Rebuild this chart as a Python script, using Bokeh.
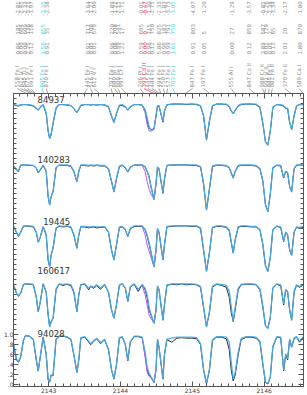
import math
from bokeh.plotting import figure
from bokeh.layouts import column
from bokeh.models import Range1d, LinearAxis, FixedTicker, ColumnDataSource, CustomJSTickFormatter
from bokeh.transform import dodge
from bokeh.core.properties import value
from bokeh.embed import file_html
from bokeh.resources import INLINE

# ---------------- data ----------------
wl = [2142.511, 2142.552, 2142.580,
      2142.610, 2142.649, 2142.676, 2142.731, 2142.787, 2142.828, 2142.855, 2142.883, 2142.924, 2142.966,
      2142.993, 2143.014, 2143.034, 2143.062, 2143.103, 2143.145, 2143.200, 2143.255, 2143.310, 2143.351,
      2143.393, 2143.420, 2143.448, 2143.503, 2143.558, 2143.585, 2143.627, 2143.668, 2143.723, 2143.778,
      2143.833, 2143.875, 2143.909, 2143.944, 2143.985, 2144.026, 2144.067, 2144.102, 2144.136, 2144.191,
      2144.247, 2144.302, 2144.343, 2144.371, 2144.398, 2144.425, 2144.467, 2144.494, 2144.515, 2144.536,
      2144.591, 2144.612, 2144.646, 2144.715, 2144.784, 2144.853, 2144.921, 2144.990, 2145.059, 2145.114,
      2145.156, 2145.197, 2145.238, 2145.280, 2145.335, 2145.404, 2145.473, 2145.514, 2145.541, 2145.569,
      2145.596, 2145.638, 2145.679, 2145.748, 2145.817, 2145.886, 2145.941, 2145.982, 2146.017, 2146.051,
      2146.085, 2146.120, 2146.175, 2146.230, 2146.271, 2146.299, 2146.326, 2146.354, 2146.382, 2146.416,
      2146.450, 2146.492, 2146.547]

stars = ["84937", "140283", "19445", "160617", "94028"]
offsets = [4.59, 3.39, 2.18, 1.04, 0.0]
name_x = [2142.846, 2142.846, 2142.924, 2142.846, 2142.846]
name_y = [5.67, 4.47, 3.25, 2.27, 1.02]

obs_84937 = [0.98, 0.96, 0.95,
             0.97, 0.98, 0.98, 0.97, 0.95, 0.90, 0.87, 0.92, 0.97, 0.80,
             0.45, 0.31, 0.38, 0.60, 0.90, 0.98, 0.98, 0.97, 0.96, 0.90,
             0.82, 0.88, 0.96, 0.98, 0.98, 0.97, 0.98, 0.97, 0.98, 0.97,
             0.93, 0.75, 0.63, 0.80, 0.96, 0.96, 0.93, 0.87, 0.93, 0.98,
             0.98, 0.97, 0.85, 0.65, 0.52, 0.48, 0.50, 0.75, 0.95, 0.95,
             0.63, 0.85, 0.97, 0.99, 0.99, 0.99, 0.98, 0.99, 0.98, 0.95,
             0.75, 0.28, 0.65, 0.95, 0.99, 0.99, 0.98, 0.93, 0.85, 0.80,
             0.86, 0.95, 0.98, 0.99, 0.99, 0.98, 0.92, 0.60, 0.25, 0.18,
             0.45, 0.92, 0.98, 0.97, 0.95, 0.90, 0.90, 0.62, 0.49, 0.75,
             0.95, 0.98, 0.98]
mod_84937 = [0.98, 0.97, 0.96,
             0.98, 0.98, 0.98, 0.98, 0.96, 0.91, 0.87, 0.93, 0.98, 0.82,
             0.46, 0.30, 0.40, 0.62, 0.92, 0.98, 0.98, 0.98, 0.96, 0.90,
             0.82, 0.89, 0.97, 0.98, 0.98, 0.98, 0.98, 0.98, 0.98, 0.98,
             0.94, 0.76, 0.62, 0.80, 0.97, 0.98, 0.94, 0.87, 0.94, 0.98,
             0.98, 0.97, 0.88, 0.72, 0.55, 0.47, 0.49, 0.76, 0.96, 0.96,
             0.64, 0.86, 0.98, 0.99, 0.99, 0.99, 0.99, 0.99, 0.99, 0.96,
             0.76, 0.27, 0.66, 0.96, 0.99, 0.99, 0.99, 0.94, 0.86, 0.80,
             0.87, 0.96, 0.99, 0.99, 0.99, 0.99, 0.93, 0.60, 0.24, 0.17,
             0.46, 0.93, 0.98, 0.98, 0.96, 0.91, 0.91, 0.63, 0.48, 0.76,
             0.96, 0.98, 0.98]

obs_140283 = [0.96, 0.88, 0.85,
              0.97, 0.98, 0.98, 0.97, 0.97, 0.92, 0.82, 0.88, 0.97, 0.85,
              0.35, 0.19, 0.35, 0.45, 0.92, 0.98, 0.97, 0.97, 0.95, 0.85,
              0.65, 0.85, 0.97, 0.97, 0.96, 0.97, 0.96, 0.97, 0.96, 0.96,
              0.90, 0.65, 0.45, 0.70, 0.95, 0.97, 0.92, 0.84, 0.93, 0.98,
              0.98, 0.98, 0.94, 0.85, 0.75, 0.55, 0.30, 0.60, 0.93, 0.90,
              0.42, 0.70, 0.97, 0.98, 0.98, 0.98, 0.98, 0.97, 0.97, 0.94,
              0.60, 0.09, 0.50, 0.95, 0.97, 0.97, 0.96, 0.92, 0.82, 0.72,
              0.85, 0.96, 0.97, 0.97, 0.97, 0.96, 0.90, 0.65, 0.20, 0.06,
              0.40, 0.92, 0.97, 0.96, 0.72, 0.85, 0.82, 0.55, 0.45, 0.90,
              0.97, 0.98, 0.97]
mod_140283 = [0.97, 0.89, 0.86,
              0.98, 0.98, 0.98, 0.98, 0.97, 0.92, 0.83, 0.89, 0.98, 0.86,
              0.36, 0.18, 0.34, 0.46, 0.93, 0.98, 0.98, 0.98, 0.96, 0.86,
              0.64, 0.86, 0.98, 0.98, 0.97, 0.98, 0.97, 0.98, 0.97, 0.97,
              0.91, 0.66, 0.44, 0.71, 0.96, 0.98, 0.93, 0.84, 0.94, 0.98,
              0.98, 0.98, 0.95, 0.86, 0.74, 0.54, 0.29, 0.61, 0.94, 0.91,
              0.41, 0.71, 0.97, 0.98, 0.98, 0.98, 0.98, 0.98, 0.98, 0.95,
              0.61, 0.08, 0.51, 0.96, 0.98, 0.98, 0.97, 0.93, 0.83, 0.72,
              0.86, 0.97, 0.98, 0.98, 0.98, 0.97, 0.91, 0.66, 0.19, 0.05,
              0.41, 0.93, 0.98, 0.97, 0.73, 0.86, 0.83, 0.56, 0.44, 0.91,
              0.98, 0.98, 0.98]

obs_19445 = [0.97, 0.85, 0.77,
             0.85, 0.97, 0.98, 0.97, 0.96, 0.85, 0.66, 0.75, 0.96, 0.80,
             0.30, 0.17, 0.40, 0.54, 0.93, 0.97, 0.96, 0.97, 0.95, 0.80,
             0.54, 0.80, 0.96, 0.96, 0.94, 0.95, 0.96, 0.94, 0.95, 0.96,
             0.85, 0.50, 0.31, 0.60, 0.95, 0.96, 0.90, 0.77, 0.92, 0.97,
             0.97, 0.97, 0.90, 0.78, 0.62, 0.45, 0.17, 0.50, 0.92, 0.85,
             0.31, 0.60, 0.96, 0.97, 0.98, 0.98, 0.98, 0.97, 0.97, 0.93,
             0.50, 0.08, 0.45, 0.94, 0.97, 0.97, 0.95, 0.88, 0.65, 0.44,
             0.70, 0.95, 0.97, 0.97, 0.96, 0.96, 0.90, 0.60, 0.20, 0.08,
             0.35, 0.90, 0.97, 0.95, 0.67, 0.85, 0.80, 0.50, 0.40, 0.85,
             0.95, 0.93, 0.96]
mod_19445 = [0.98, 0.86, 0.78,
             0.86, 0.98, 0.98, 0.98, 0.97, 0.86, 0.65, 0.76, 0.97, 0.81,
             0.31, 0.16, 0.39, 0.55, 0.94, 0.98, 0.97, 0.98, 0.96, 0.81,
             0.53, 0.81, 0.97, 0.97, 0.96, 0.96, 0.97, 0.96, 0.96, 0.97,
             0.86, 0.51, 0.30, 0.61, 0.96, 0.97, 0.91, 0.77, 0.93, 0.98,
             0.98, 0.98, 0.91, 0.80, 0.65, 0.46, 0.16, 0.51, 0.93, 0.86,
             0.30, 0.61, 0.97, 0.98, 0.98, 0.98, 0.98, 0.98, 0.98, 0.94,
             0.51, 0.07, 0.46, 0.95, 0.98, 0.98, 0.96, 0.90, 0.67, 0.44,
             0.71, 0.96, 0.98, 0.98, 0.97, 0.97, 0.91, 0.61, 0.19, 0.07,
             0.36, 0.91, 0.98, 0.96, 0.68, 0.86, 0.81, 0.51, 0.39, 0.86,
             0.96, 0.95, 0.97]

obs_160617 = [0.95, 0.78, 0.72,
              0.78, 0.95, 0.97, 0.96, 0.95, 0.70, 0.42, 0.60, 0.97, 0.80,
              0.35, 0.12, 0.22, 0.28, 0.85, 0.96, 0.94, 0.96, 0.93, 0.80,
              0.42, 0.75, 0.95, 0.96, 0.85, 0.92, 0.88, 0.93, 0.86, 0.95,
              0.80, 0.45, 0.29, 0.55, 0.94, 0.97, 0.88, 0.62, 0.90, 0.96,
              0.82, 0.95, 0.85, 0.70, 0.45, 0.35, 0.19, 0.45, 0.92, 0.85,
              0.25, 0.55, 0.94, 0.96, 0.95, 0.97, 0.95, 0.96, 0.95, 0.90,
              0.50, 0.12, 0.40, 0.90, 0.96, 0.94, 0.90, 0.70, 0.40, 0.22,
              0.45, 0.85, 0.95, 0.96, 0.96, 0.95, 0.85, 0.50, 0.15, 0.09,
              0.30, 0.88, 0.96, 0.93, 0.55, 0.85, 0.80, 0.45, 0.25, 0.80,
              0.94, 0.90, 0.95]
mod_160617 = [0.96, 0.79, 0.73,
              0.79, 0.96, 0.97, 0.97, 0.96, 0.71, 0.41, 0.61, 0.97, 0.81,
              0.36, 0.11, 0.21, 0.29, 0.87, 0.97, 0.96, 0.97, 0.95, 0.82,
              0.41, 0.76, 0.96, 0.97, 0.88, 0.93, 0.90, 0.95, 0.88, 0.96,
              0.81, 0.46, 0.28, 0.56, 0.95, 0.97, 0.89, 0.62, 0.91, 0.97,
              0.86, 0.96, 0.88, 0.75, 0.50, 0.36, 0.18, 0.46, 0.93, 0.86,
              0.24, 0.56, 0.95, 0.97, 0.97, 0.97, 0.97, 0.97, 0.96, 0.92,
              0.52, 0.11, 0.42, 0.92, 0.97, 0.96, 0.94, 0.82, 0.52, 0.23,
              0.50, 0.88, 0.96, 0.97, 0.97, 0.96, 0.87, 0.52, 0.14, 0.08,
              0.31, 0.89, 0.97, 0.95, 0.57, 0.86, 0.82, 0.46, 0.24, 0.82,
              0.95, 0.92, 0.96]

obs_94028 = [0.80, 0.50, 0.45,
             0.55, 0.88, 0.98, 0.97, 0.90, 0.50, 0.28, 0.55, 0.95, 0.60,
             0.10, 0.06, 0.20, 0.18, 0.90, 0.97, 0.97, 0.95, 0.90, 0.60,
             0.25, 0.50, 0.93, 0.95, 0.85, 0.80, 0.86, 0.92, 0.82, 0.90,
             0.70, 0.30, 0.12, 0.40, 0.93, 0.95, 0.80, 0.48, 0.85, 0.96,
             0.96, 0.94, 0.60, 0.30, 0.20, 0.15, 0.05, 0.30, 0.90, 0.75,
             0.12, 0.60, 0.90, 0.85, 0.93, 0.94, 0.93, 0.93, 0.92, 0.80,
             0.30, 0.02, 0.30, 0.88, 0.95, 0.95, 0.92, 0.70, 0.30, 0.08,
             0.20, 0.60, 0.90, 0.95, 0.95, 0.93, 0.85, 0.40, 0.05, 0.02,
             0.15, 0.75, 0.95, 0.94, 0.28, 0.60, 0.50, 0.90, 0.75, 0.92,
             0.95, 0.85, 0.95]
mod_94028 = [0.82, 0.52, 0.46,
             0.56, 0.89, 0.98, 0.97, 0.91, 0.51, 0.27, 0.56, 0.96, 0.62,
             0.11, 0.05, 0.18, 0.20, 0.91, 0.97, 0.97, 0.96, 0.91, 0.61,
             0.24, 0.51, 0.94, 0.96, 0.87, 0.82, 0.88, 0.93, 0.84, 0.91,
             0.71, 0.31, 0.11, 0.41, 0.94, 0.96, 0.81, 0.49, 0.86, 0.97,
             0.97, 0.95, 0.65, 0.36, 0.24, 0.16, 0.06, 0.31, 0.91, 0.76,
             0.11, 0.61, 0.91, 0.93, 0.95, 0.95, 0.95, 0.95, 0.94, 0.82,
             0.31, 0.03, 0.31, 0.90, 0.96, 0.96, 0.95, 0.85, 0.45, 0.12,
             0.25, 0.65, 0.92, 0.96, 0.96, 0.95, 0.87, 0.42, 0.06, 0.03,
             0.16, 0.77, 0.96, 0.95, 0.30, 0.62, 0.52, 0.91, 0.76, 0.93,
             0.96, 0.87, 0.96]

# Cd II alternative synthesis (purple)
cd_wl = [2144.302, 2144.343, 2144.371, 2144.398, 2144.425, 2144.467, 2144.494]
cd_84937 = [0.97, 0.82, 0.58, 0.46, 0.45, 0.49, 0.76]
cd_140283 = [0.97, 0.85, 0.65, 0.50, 0.40, 0.30, 0.60]
cd_19445 = [0.97, 0.80, 0.60, 0.48, 0.35, 0.17, 0.50]
cd_160617 = [0.94, 0.75, 0.55, 0.35, 0.28, 0.19, 0.45]
cd_94028 = [0.93, 0.55, 0.25, 0.17, 0.14, 0.05, 0.30]

# line identifications (label position, line wavelength, texts)
lab_x = [2142.428, 2142.477, 2142.525, 2142.573, 2142.621,
         2142.787, 2142.842,
         2143.434, 2143.482, 2143.530,
         2143.778, 2143.826, 2143.875, 2143.923,
         2144.198, 2144.253, 2144.309, 2144.364,
         2144.467, 2144.529, 2144.591, 2144.667,
         2144.949, 2145.107, 2145.507, 2145.762,
         2145.955, 2146.003, 2146.051, 2146.099,
         2146.278, 2146.485]
lab_wl = [2142.558, 2142.622, 2142.645, 2142.675, 2142.691,
          2142.805, 2142.870,
          2143.393, 2143.516, 2143.612,
          2143.797, 2143.880, 2143.909, 2143.997,
          2144.246, 2144.393, 2144.445, 2144.484,
          2144.494, 2144.550, 2144.577, 2144.703,
          2144.847, 2145.197, 2145.555, 2145.847,
          2145.988, 2145.991, 2146.045, 2146.082,
          2146.370, 2146.540]
lab_name = ["558 Fe I", "622 V I", "645 Ti I", "675 V I", "691 Fe I",
            "805 Fe I", "870 Fe I",
            "445 Fe I", "516 Ti I", "612 V I",
            "797 Fe I", "880 Ni I", "909 Fe I", "997 Cr I",
            "246 Pt I", "393 Cd II", "445 Fe I", "484 Fe I",
            "494 Fe I", "550 Fe I", "577 Fe I", "703 Fe I",
            "847 Fe I", "197 Fe I", "555 Al I", "847 Co II",
            "988 Cr II", "991 V II", "045 Fe II", "082 Fe II",
            "370 Fe II", "589 Ca I"]
lab_chi = ["0.86", "0.00", "0.00", "2.25", "0.12",
           "1.56", "0.91",
           "0.91", "0.05", "0.01",
           "0.96", "0.08", "0.99", "1.22",
           "0.59", "0.00", "0.96", "0.12",
           "5.86", "0.96", "0.99", "1.61",
           "0.91", "0.05", "0.00", "0.12",
           "3.89", "0.01", "0.05", "0.12",
           "2.03", "1.80"]
lab_ew = ["185", "604", "609", "136", "118",
          "855", "35",
          "717", "708", "679",
          "220", "708", "541", "17",
          "695", "0", "715", "750",
          "825", "183", "791", "750",
          "803", "5", "27", "859",
          "587", "729", "2", "65",
          "20", "870"]
lab_gf = ["-2.81", "-2.45", "-2.33", "-3.21", "-1.97",
          "-3.35", "-2.38",
          "-3.64", "-1.27", "-2.00",
          "-1.89", "-1.22", "-2.15", "-1.71",
          "-0.01", "-0.47", "-1.30", "-2.75",
          "-2.33", "-1.83", "-3.73", "-3.05",
          "-4.07", "-1.20", "-1.29", "-3.57",
          "-0.85", "-2.26", "-2.38", "-3.34",
          "-2.17", "-1.80"]
GRAY = "#8e8e8e"
CYAN = "#3fd3e3"
RED = "#ff3355"
lab_color = [GRAY] * 5 + [CYAN, GRAY] + [GRAY] * 3 + [GRAY] * 4 + \
            [GRAY, RED, GRAY, GRAY] + [GRAY] * 3 + [CYAN] + \
            [GRAY] * 4 + [GRAY] * 4 + [GRAY] * 2

# ---------------- styling ----------------
OBS = "#262626"
MOD = "#4ea9e2"
CDC = "#b45ee6"
AXC = "#555555"

# top panel: line identifications
top = figure(width=307, height=93, x_range=Range1d(2142.373, 2146.547), y_range=Range1d(93, 0),
             output_backend="svg", toolbar_location=None,
             min_border_left=0, min_border_right=4, min_border_top=0, min_border_bottom=0)
top.axis.visible = False
top.grid.visible = False
top.outline_line_color = None

lab_src = ColumnDataSource(dict(x=lab_x, wl=lab_wl, name=lab_name, chi=lab_chi,
                                ew=lab_ew, gf=lab_gf, color=lab_color))
for field, ystart in (("name", 87), ("chi", 54), ("ew", 34), ("gf", 15)):
    top.text(x="x", y=ystart, text=field, source=lab_src, angle=math.pi / 2,
             text_align="left", text_baseline="middle", text_font=value("DejaVu Sans"),
             text_font_size="5.5px", text_color="color")
top.segment(x0="x", y0=88, x1="wl", y1=93, source=lab_src, line_color="color", line_width=0.8)

# main panel: spectra
p = figure(width=307, height=302, x_range=Range1d(2142.511, 2146.547), y_range=Range1d(-0.03, 5.79),
           output_backend="svg", toolbar_location=None,
           min_border_left=10, min_border_right=4, min_border_top=0, min_border_bottom=8)
p.grid.visible = False
p.outline_line_color = AXC

xt = FixedTicker(ticks=[2143, 2144, 2145, 2146],
                 minor_ticks=[round(2142.6 + 0.1 * i, 1) for i in range(40)])
yt = FixedTicker(ticks=[0, 0.2, 0.4, 0.6, 0.8, 1.0],
                 minor_ticks=[round(0.1 * i, 1) for i in range(58)])


def style_axis(ax, show_labels):
    ax.axis_line_color = AXC
    ax.major_tick_line_color = AXC
    ax.minor_tick_line_color = AXC
    ax.major_tick_in = 5
    ax.major_tick_out = 0
    ax.minor_tick_in = 3
    ax.minor_tick_out = 0
    ax.major_label_text_font = "DejaVu Sans"
    ax.major_label_text_color = "#444444"
    if show_labels:
        ax.major_label_standoff = 1
        ax.major_label_text_font_size = "6px"
    else:
        ax.major_label_standoff = 0
        ax.major_label_text_font_size = "0px"
        ax.major_label_text_alpha = 0


p.xaxis[0].ticker = xt
p.yaxis[0].ticker = yt
p.yaxis[0].formatter = CustomJSTickFormatter(
    code="return tick >= 0.999 ? tick.toFixed(1) : '.' + Math.round(tick * 10);")
style_axis(p.xaxis[0], True)
style_axis(p.yaxis[0], True)
p.yaxis[0].major_label_standoff = 0

ax_top = LinearAxis(ticker=xt)
style_axis(ax_top, False)
p.add_layout(ax_top, "above")
ax_right = LinearAxis(ticker=yt)
style_axis(ax_right, False)
p.add_layout(ax_right, "right")

obs_all = [obs_84937, obs_140283, obs_19445, obs_160617, obs_94028]
mod_all = [mod_84937, mod_140283, mod_19445, mod_160617, mod_94028]
cd_all = [cd_84937, cd_140283, cd_19445, cd_160617, cd_94028]

for off, o, m, c in zip(offsets, obs_all, mod_all, cd_all):
    src = ColumnDataSource(dict(wl=wl, obs=o, mod=m))
    csrc = ColumnDataSource(dict(wl=cd_wl, cd=c))
    p.line(x="wl", y=dodge("obs", off), source=src, line_color=OBS, line_width=1)
    p.line(x="wl", y=dodge("cd", off), source=csrc, line_color=CDC, line_width=1)
    p.line(x="wl", y=dodge("mod", off), source=src, line_color=MOD, line_width=1.3, line_alpha=0.95)

p.text(x=name_x, y=name_y, text=stars, text_font=value("DejaVu Sans"),
       text_font_size="8.5px", text_color="#333333", text_align="left", text_baseline="middle")

layout = column(top, p, spacing=0)
open("out.html", "w").write(file_html(layout, INLINE))
